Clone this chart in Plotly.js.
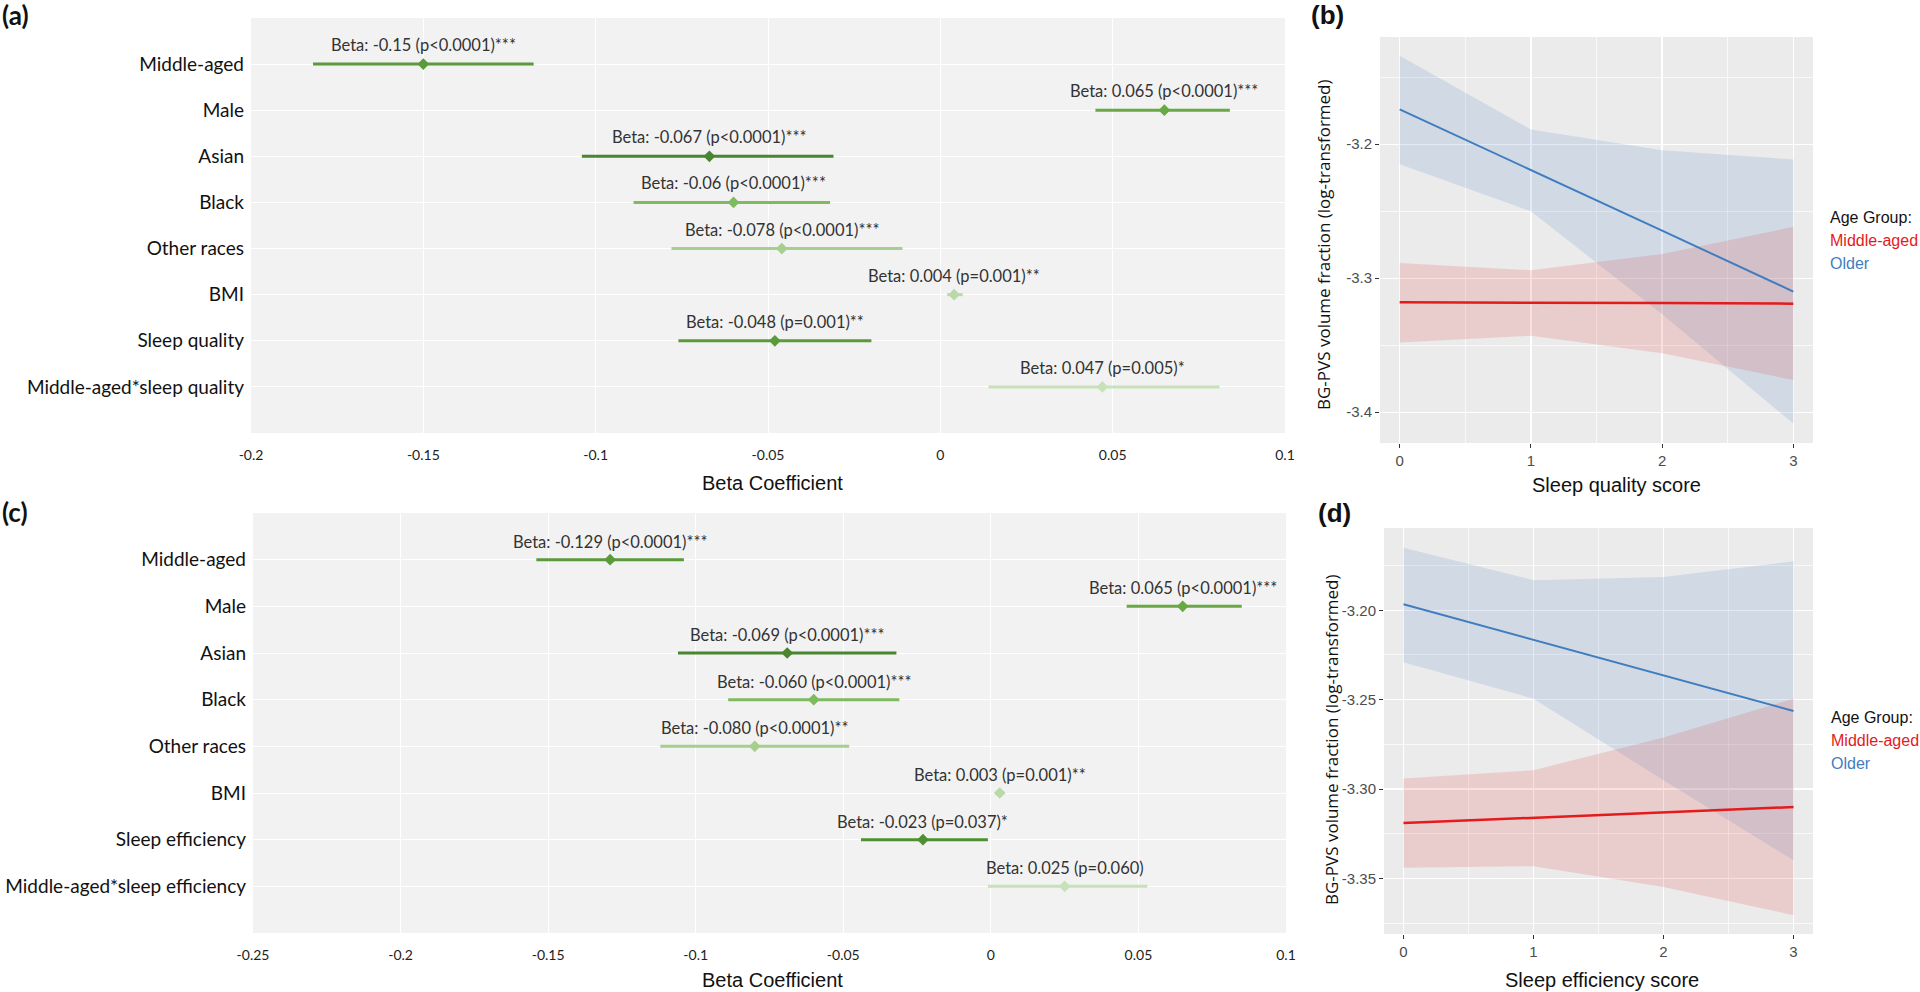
<!DOCTYPE html>
<html>
<head>
<meta charset="utf-8">
<script src="https://cdn.plot.ly/plotly-3.0.1.min.js"></script>
<style>html,body{margin:0;padding:0;background:#fff}#chart{width:1920px;height:992px}</style>
</head>
<body>
<div id="chart"></div>
<script>
// ---------- Panel (a): forest plot, sleep quality model ----------
const catsA = ["Middle-aged","Male","Asian","Black","Other races","BMI","Sleep quality","Middle-aged*sleep quality"];
const estA  = [-0.150, 0.065, -0.067, -0.060, -0.046, 0.004, -0.048, 0.047];
const lowA  = [-0.182, 0.045, -0.104, -0.089, -0.078, 0.002, -0.076, 0.014];
const highA = [-0.118, 0.084, -0.031, -0.032, -0.011, 0.0065, -0.020, 0.081];
const labelsA = ["Beta: -0.15 (p<0.0001)***","Beta: 0.065 (p<0.0001)***","Beta: -0.067 (p<0.0001)***","Beta: -0.06 (p<0.0001)***","Beta: -0.078 (p<0.0001)***","Beta: 0.004 (p=0.001)**","Beta: -0.048 (p=0.001)**","Beta: 0.047 (p=0.005)*"];
const colorsA = ["#5b9a3b","#68a944","#4a8530","#7fba5f","#a6cf8d","#b9daa7","#5a9a3a","#c7e2b9"];
const xTickValsA = [-0.2,-0.15,-0.1,-0.05,0,0.05,0.1];
const xTickTextA = ["-0.2","-0.15","-0.1","-0.05","0","0.05","0.1"];

// ---------- Panel (c): forest plot, sleep efficiency model ----------
const catsC = ["Middle-aged","Male","Asian","Black","Other races","BMI","Sleep efficiency","Middle-aged*sleep efficiency"];
const estC  = [-0.129, 0.065, -0.069, -0.060, -0.080, 0.003, -0.023, 0.025];
const lowC  = [-0.154, 0.046, -0.106, -0.089, -0.112, 0.0015, -0.044, -0.001];
const highC = [-0.104, 0.085, -0.032, -0.031, -0.048, 0.0045, -0.001, 0.053];
const labelsC = ["Beta: -0.129 (p<0.0001)***","Beta: 0.065 (p<0.0001)***","Beta: -0.069 (p<0.0001)***","Beta: -0.060 (p<0.0001)***","Beta: -0.080 (p<0.0001)**","Beta: 0.003 (p=0.001)**","Beta: -0.023 (p=0.037)*","Beta: 0.025 (p=0.060)"];
const colorsC = ["#5b9a3b","#68a944","#4a8530","#7fba5f","#a6cf8d","#b9daa7","#4f9033","#c7e2b9"];
const xTickValsC = [-0.25,-0.2,-0.15,-0.1,-0.05,0,0.05,0.1];
const xTickTextC = ["-0.25","-0.2","-0.15","-0.1","-0.05","0","0.05","0.1"];

// ---------- Panel (b): sleep quality score interaction ----------
const scoreB = [0, 1, 2, 3];
const olderFitB = [-3.174, -3.219, -3.2645, -3.310];
const olderHiB  = [-3.134, -3.189, -3.2045, -3.2114];
const olderLoB  = [-3.215, -3.250, -3.327, -3.4085];
const midFitB   = [-3.318, -3.318, -3.3185, -3.319];
const midHiB    = [-3.2886, -3.294, -3.282, -3.2617];
const midLoB    = [-3.348, -3.343, -3.356, -3.376];
const yTickValsB = [-3.4, -3.3, -3.2];
const yTickTextB = ["-3.4", "-3.3", "-3.2"];

// ---------- Panel (d): sleep efficiency score interaction ----------
const scoreD = [0, 1, 2, 3];
const olderFitD = [-3.1966, -3.2164, -3.2363, -3.2563];
const olderHiD  = [-3.165, -3.1832, -3.1814, -3.1726];
const olderLoD  = [-3.229, -3.2494, -3.295, -3.3398];
const midFitD   = [-3.319, -3.316, -3.313, -3.310];
const midHiD    = [-3.294, -3.2894, -3.2711, -3.2494];
const midLoD    = [-3.344, -3.3431, -3.3547, -3.3705];
const yTickValsD = [-3.35, -3.3, -3.25, -3.2];
const yTickTextD = ["-3.35", "-3.30", "-3.25", "-3.20"];

const groupNames = ["Middle-aged", "Older"];
const groupColors = ["#e41a1c", "#3f7dc0"];
const ribbonColors = ["rgba(228,26,28,0.14)", "rgba(60,120,185,0.15)"];

// ---------- helpers ----------
const W = 1920, H = 992;
const px = v => v / W;
const py = v => 1 - v / H;
const CAL = "Lato, 'Open Sans', sans-serif";
const ARI = "'Liberation Sans', Arial, sans-serif";

const data = [];
const annotations = [];

function forest(cats, est, low, high, labels, colors, xa, ya, shift) {
  for (let i = 0; i < cats.length; i++) {
    data.push({
      type: "scatter", mode: "markers", xaxis: xa, yaxis: ya,
      x: [est[i]], y: [cats[i]],
      marker: { symbol: "diamond", size: 9, color: colors[i] },
      error_x: { type: "data", symmetric: false, array: [high[i] - est[i]], arrayminus: [est[i] - low[i]],
                 color: colors[i], thickness: 3, width: 0 },
      hoverinfo: "skip"
    });
    annotations.push({
      xref: xa, yref: ya, x: est[i], y: cats[i], text: labels[i], showarrow: false,
      yshift: shift, xanchor: "center", yanchor: "middle",
      font: { family: CAL, size: 16.5, color: "#333333" }
    });
  }
}
forest(catsA, estA, lowA, highA, labelsA, colorsA, "x", "y", 19);
forest(catsC, estC, lowC, highC, labelsC, colorsC, "x3", "y3", 18);

function interaction(xs, fits, his, los, xa, ya) {
  for (let g = 1; g >= 0; g--) {
    data.push({
      type: "scatter", mode: "lines", xaxis: xa, yaxis: ya,
      x: xs.concat(xs.slice().reverse()),
      y: his[g].concat(los[g].slice().reverse()),
      fill: "toself", fillcolor: ribbonColors[g], line: { width: 0 }, hoverinfo: "skip"
    });
  }
  for (let g = 1; g >= 0; g--) {
    data.push({
      type: "scatter", mode: "lines", xaxis: xa, yaxis: ya, x: xs, y: fits[g],
      line: { color: groupColors[g], width: g === 0 ? 2.5 : 2 }, hoverinfo: "skip"
    });
  }
}
interaction(scoreB, [midFitB, olderFitB], [midHiB, olderHiB], [midLoB, olderLoB], "x2", "y2");
interaction(scoreD, [midFitD, olderFitD], [midHiD, olderHiD], [midLoD, olderLoD], "x4", "y4");

// panel letters
[["(a)", 0, 15], ["(b)", 1309, 15], ["(c)", 0, 512], ["(d)", 1316, 513]].forEach(([t, x, y], k) => {
  annotations.push({ xref: "paper", yref: "paper", x: px(x), y: py(y), xanchor: "left", yanchor: "middle",
    text: "<b>" + t + "</b>", showarrow: false,
    font: { family: k % 2 === 0 ? CAL : ARI, size: 26, color: "#111" } });
});

// axis titles
const axTitle = (t, x, y, ang, fam, size) => annotations.push({ xref: "paper", yref: "paper", x: px(x), y: py(y),
  xanchor: "center", yanchor: "middle", text: t, showarrow: false, textangle: ang,
  font: { family: fam, size: size, color: "#111" } });
axTitle("Beta Coefficient", 772, 483, 0, ARI, 20);
axTitle("Beta Coefficient", 772, 980, 0, ARI, 20);
axTitle("Sleep quality score", 1616, 485, 0, ARI, 20);
axTitle("Sleep efficiency score", 1602, 980, 0, ARI, 20);
axTitle("BG-PVS volume fraction (log-transformed)", 1324, 245, -90, "'Open Sans', sans-serif", 17);
axTitle("BG-PVS volume fraction (log-transformed)", 1331, 740, -90, "'Open Sans', sans-serif", 17);

// legends (text-only, as in the reference)
function legend(x, y0) {
  annotations.push({ xref: "paper", yref: "paper", x: px(x), y: py(y0), xanchor: "left", yanchor: "middle",
    text: "Age Group:", showarrow: false, font: { family: ARI, size: 16, color: "#111" } });
  groupNames.forEach((n, g) => annotations.push({ xref: "paper", yref: "paper", x: px(x), y: py(y0 + 23 + g * 23),
    xanchor: "left", yanchor: "middle", text: n, showarrow: false, font: { family: ARI, size: 16, color: groupColors[g] } }));
}
legend(1828, 217);
legend(1829, 717);

const forestX = (dom, range, tv, tt) => ({
  domain: dom, range: range, tickvals: tv, ticktext: tt, showgrid: true, gridcolor: "#ffffff", gridwidth: 1,
  zeroline: false, showline: false, ticks: "", ticklabelstandoff: 12,
  tickfont: { family: CAL, size: 14, color: "#222" }, fixedrange: true
});
const forestY = (dom, cats) => ({
  domain: dom, type: "category", categoryorder: "array", categoryarray: cats, range: [8, -1],
  showgrid: true, gridcolor: "#ffffff", gridwidth: 1, zeroline: false, showline: false, ticks: "",
  ticklabelstandoff: 6, tickfont: { family: CAL, size: 19, color: "#111" }, fixedrange: true
});
const ggX = (dom, range) => ({
  domain: dom, range: range, tickvals: [0, 1, 2, 3], ticktext: ["0", "1", "2", "3"],
  showgrid: true, gridcolor: "#ffffff", gridwidth: 1.3, zeroline: false, showline: false,
  ticks: "outside", ticklen: 4, tickcolor: "#333", tickwidth: 1,
  minor: { tickvals: [0.5, 1.5, 2.5], showgrid: true, gridcolor: "#ffffff", gridwidth: 0.7, ticks: "" },
  tickfont: { family: ARI, size: 15, color: "#4d4d4d" }, fixedrange: true
});
const ggY = (dom, range, tv, tt, minorVals) => ({
  domain: dom, range: range, tickvals: tv, ticktext: tt,
  showgrid: true, gridcolor: "#ffffff", gridwidth: 1.3, zeroline: false, showline: false,
  ticks: "outside", ticklen: 4, tickcolor: "#333", tickwidth: 1,
  minor: { tickvals: minorVals, showgrid: true, gridcolor: "#ffffff", gridwidth: 0.7, ticks: "" },
  tickfont: { family: ARI, size: 15, color: "#4d4d4d" }, fixedrange: true
});

const layout = {
  width: W, height: H, margin: { l: 0, r: 0, t: 0, b: 0 },
  paper_bgcolor: "#ffffff", plot_bgcolor: "#ebebeb", showlegend: false,
  xaxis:  Object.assign(forestX([px(251), px(1285)], [-0.2, 0.1], xTickValsA, xTickTextA), { anchor: "y" }),
  yaxis:  Object.assign(forestY([py(433), py(18)], catsA), { anchor: "x" }),
  xaxis3: Object.assign(forestX([px(253), px(1286)], [-0.25, 0.1], xTickValsC, xTickTextC), { anchor: "y3" }),
  yaxis3: Object.assign(forestY([py(933), py(513)], catsC), { anchor: "x3" }),
  xaxis2: Object.assign(ggX([px(1380), px(1813)], [-0.15, 3.15]), { anchor: "y2" }),
  yaxis2: Object.assign(ggY([py(443), py(37)], [-3.423, -3.120], yTickValsB, yTickTextB, [-3.35, -3.25, -3.15]), { anchor: "x2" }),
  xaxis4: Object.assign(ggX([px(1384), px(1813)], [-0.15, 3.15]), { anchor: "y4" }),
  yaxis4: Object.assign(ggY([py(934), py(528)], [-3.381, -3.154], yTickValsD, yTickTextD, [-3.375, -3.325, -3.275, -3.225, -3.175]), { anchor: "x4" }),
  shapes: [
    { type: "rect", xref: "x domain", yref: "y domain", x0: 0, x1: 1, y0: 0, y1: 1, fillcolor: "#f2f2f2", line: { width: 0 }, layer: "below" },
    { type: "rect", xref: "x3 domain", yref: "y3 domain", x0: 0, x1: 1, y0: 0, y1: 1, fillcolor: "#f2f2f2", line: { width: 0 }, layer: "below" }
  ],
  annotations: annotations
};

Plotly.newPlot("chart", data, layout, { displayModeBar: false, staticPlot: true });
</script>
</body>
</html>
